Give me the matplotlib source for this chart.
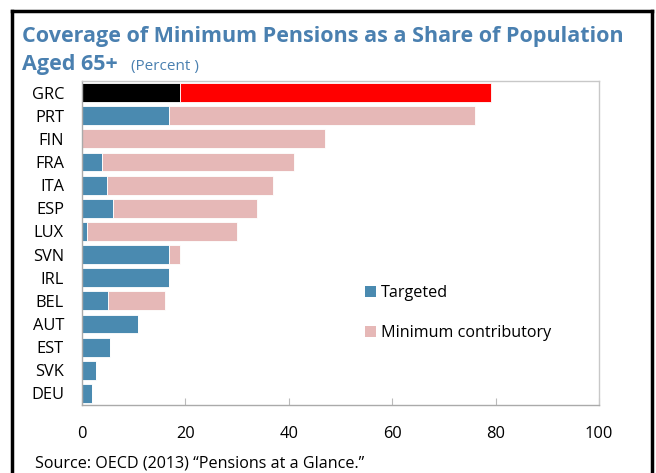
import matplotlib
matplotlib.use("Agg")
import matplotlib.pyplot as plt
from matplotlib.patches import Patch
from matplotlib.lines import Line2D

plt.rcParams['font.family'] = ['Open Sans', 'DejaVu Sans']

countries = ["GRC", "PRT", "FIN", "FRA", "ITA", "ESP", "LUX",
             "SVN", "IRL", "BEL", "AUT", "EST", "SVK", "DEU"]
targeted = [19, 16.9, 0, 3.9, 4.9, 6.0, 1.0, 16.9, 16.9, 5.0, 10.9, 5.5, 2.8, 1.9]
min_contrib = [60.1, 59.1, 47.0, 37.1, 32.0, 27.9, 28.9, 2.1, 0, 11.0, 0, 0, 0, 0]
xticks = [0, 20, 40, 60, 80, 100]

blue = "#4a8ab0"
pink = "#e6b8b7"
title_col = "#4a80b0"

fig = plt.figure(figsize=(6.56, 4.73), dpi=100)
ax = fig.add_axes([82 / 656, 1 - 405 / 473, 517 / 656, 324 / 473])

ypos = list(range(len(countries)))
c1 = [blue] * len(countries)
c2 = [pink] * len(countries)
c1[0] = "black"
c2[0] = "#ff0000"

ax.barh(ypos, targeted, height=0.82, color=c1, edgecolor="white", linewidth=0.6)
ax.barh(ypos, min_contrib, left=targeted, height=0.82, color=c2,
        edgecolor="white", linewidth=0.6)

ax.set_ylim(len(countries) - 0.5, -0.5)
ax.set_xlim(0, 100)
ax.set_yticks(ypos)
ax.set_yticklabels(countries, fontsize=11.8)
ax.set_xticks(xticks)
ax.set_xticklabels([str(t) for t in xticks], fontsize=11.8)
ax.tick_params(axis="y", length=0, pad=13)
ax.tick_params(axis="x", direction="in", length=5, color="#bbbbbb", pad=15)
for s in ax.spines.values():
    s.set_color("#c8c8c8")
    s.set_linewidth(1)
ax.spines["left"].set_color("#aaaaaa")
ax.spines["bottom"].set_color("#aaaaaa")

handles = [Patch(facecolor=blue, label="Targeted"),
           Patch(facecolor=pink, label="Minimum contributory")]
ax.legend(handles=handles, loc="upper left", bbox_to_anchor=(0.535, 0.39),
          frameon=False, fontsize=11.6, handlelength=0.65, handleheight=0.7,
          handletextpad=0.35, labelspacing=1.5, borderaxespad=0)

fig.text(22 / 656, 1 - 42 / 473, "Coverage of Minimum Pensions as a Share of Population",
         fontsize=15.5, fontweight="bold", color=title_col)
fig.text(22 / 656, 1 - 70 / 473, "Aged 65+", fontsize=15.5, fontweight="bold",
         color=title_col)
fig.text(131 / 656, 1 - 70 / 473, "(Percent )", fontsize=11, color=title_col)
fig.text(35 / 656, 1 - 467 / 473, "Source: OECD (2013) \u201cPensions at a Glance.\u201d",
         fontsize=11.6)

# black frame round the figure (open at the bottom)
frame = dict(color="black", linewidth=2.5, transform=fig.transFigure)
fig.add_artist(Line2D([12 / 656, 12 / 656], [0, 1 - 11 / 473], **frame))
fig.add_artist(Line2D([12 / 656, 652 / 656], [1 - 11 / 473, 1 - 11 / 473], **frame))
fig.add_artist(Line2D([652 / 656, 652 / 656], [0, 1 - 11 / 473], **frame))

fig.savefig("out.png", dpi=100)
